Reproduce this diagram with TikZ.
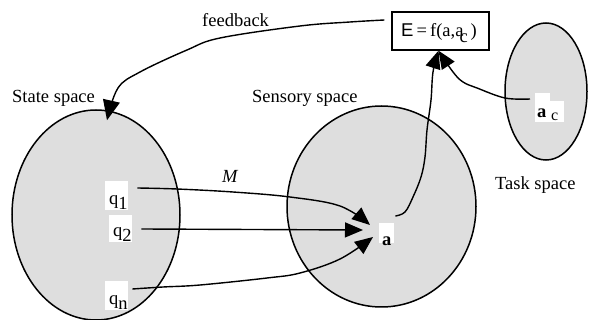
\documentclass[tikz,border=0pt]{standalone}
\usepackage{fontspec}
\setmainfont{Liberation Serif}
\newfontfamily\arialf{Liberation Sans}
\usetikzlibrary{shapes.geometric,arrows.meta,calc}
\definecolor{spacegray}{gray}{0.87}
\begin{document}
\begin{tikzpicture}[x=1pt,y=-1pt,
  spacefill/.style={ellipse,draw=black,line width=1.5pt,fill=spacegray,inner sep=0pt},
  lbl/.style={inner sep=0pt,anchor=base west,font=\fontsize{18.5}{22}\selectfont},
  conn/.style={line width=1.4pt,-{Triangle[length=18pt,width=15pt]}},
  wbox/.style={fill=white,inner sep=0pt,anchor=north west}]
\useasboundingbox (0,0) rectangle (589,320);
% spaces
\node[spacefill,minimum width=168pt,minimum height=210pt] (state) at (96,215) {};
\node[spacefill,minimum width=189pt,minimum height=201pt] (sens) at (381.5,206.5) {};
\node[spacefill,minimum width=82pt,minimum height=137pt] (task) at (546,91.5) {};
% E box
\node[draw,line width=1.3pt,minimum width=97pt,minimum height=38pt,inner sep=0pt] (E) at (440.5,31) {};
\node[lbl] (Etext) at (401,37) {{\arialf E}\,=\,f(a,a\kern-4pt\raisebox{-6pt}{c}\kern3pt)};
% labels
\node[lbl] (fb) at (202,27) {feedback};
\node[lbl] (stl) at (12,103) {State space};
\node[lbl] (sel) at (252,103) {Sensory space};
\node[lbl] (tal) at (495,190) {Task space};
\node[lbl] (M) at (222,183) {\textit{M}};
% white label boxes
\node[wbox,minimum width=23pt,minimum height=29pt] (q1) at (105,181) {};
\node[wbox,minimum width=23pt,minimum height=27pt] (q2) at (109,215) {};
\node[wbox,minimum width=23pt,minimum height=29pt] (qn) at (105,281) {};
\node[wbox,minimum width=15pt,minimum height=20pt] (a) at (379,223) {};
\node[wbox,minimum width=15pt,minimum height=29pt] (ac) at (535,93) {};
\node[wbox,minimum width=14pt,minimum height=21pt] (ac2) at (550,101) {};
\node[lbl] (q1t) at (109,205) {q\raisebox{-5pt}{1}};
\node[lbl] (q2t) at (113,237) {q\raisebox{-5pt}{2}};
\node[lbl] (qnt) at (109,305) {q\raisebox{-5pt}{n}};
\node[lbl] (at) at (382,246) {\textbf{a}};
\node[lbl] (act) at (537,118) {\textbf{a} \raisebox{-3pt}{\fontsize{16}{16}\selectfont c}};
% connector end points
\coordinate (fbs) at ($(E.west)+(-7,-11)$);
\coordinate (fbe) at ($(state.north)+(11,11)$);
\coordinate (q1s) at ($(q1.north east)+(9,7)$);
\coordinate (q2s) at ($(q2.north east)+(9,14)$);
\coordinate (qns) at ($(qn.north east)+(4,8)$);
\coordinate (a1) at ($(a.north west)+(-9,2)$);
\coordinate (a2) at ($(a.north west)+(-16,7)$);
\coordinate (a3) at ($(a.north west)+(-6,14)$);
\coordinate (as) at ($(a.north east)+(1,-7)$);
\coordinate (acs) at ($(ac.north west)+(-5,6)$);
\coordinate (Eb) at ($(E.south)+(-2,0)$);
% connectors
\draw[conn,-{Triangle[length=20pt,width=17pt]}] plot[smooth,tension=0.6] coordinates
  {(fbs) (350,22) (300,26) (220,38) (187,50) (140,72) (118,88) (fbe)};
\draw[conn] plot[smooth,tension=0.6] coordinates
  {(q1s) (177,189) (233,192) (290,197) (340,206) (a1)};
\draw[conn] (q2s) -- (a2);
\draw[conn] plot[smooth,tension=0.6] coordinates
  {(qns) (163,287) (200,285) (267,278) (300,273) (340,259) (a3)};
\draw[conn] plot[smooth,tension=0.6] coordinates
  {(as) (405,212) (413,197) (421,177) (425,157) (427,130) (431,100) (433,72) (Eb)};
\draw[conn] plot[smooth,tension=0.6] coordinates
  {(acs) (505,98) (477,88) (463,82) (453,72) (Eb)};
\end{tikzpicture}
\end{document}
